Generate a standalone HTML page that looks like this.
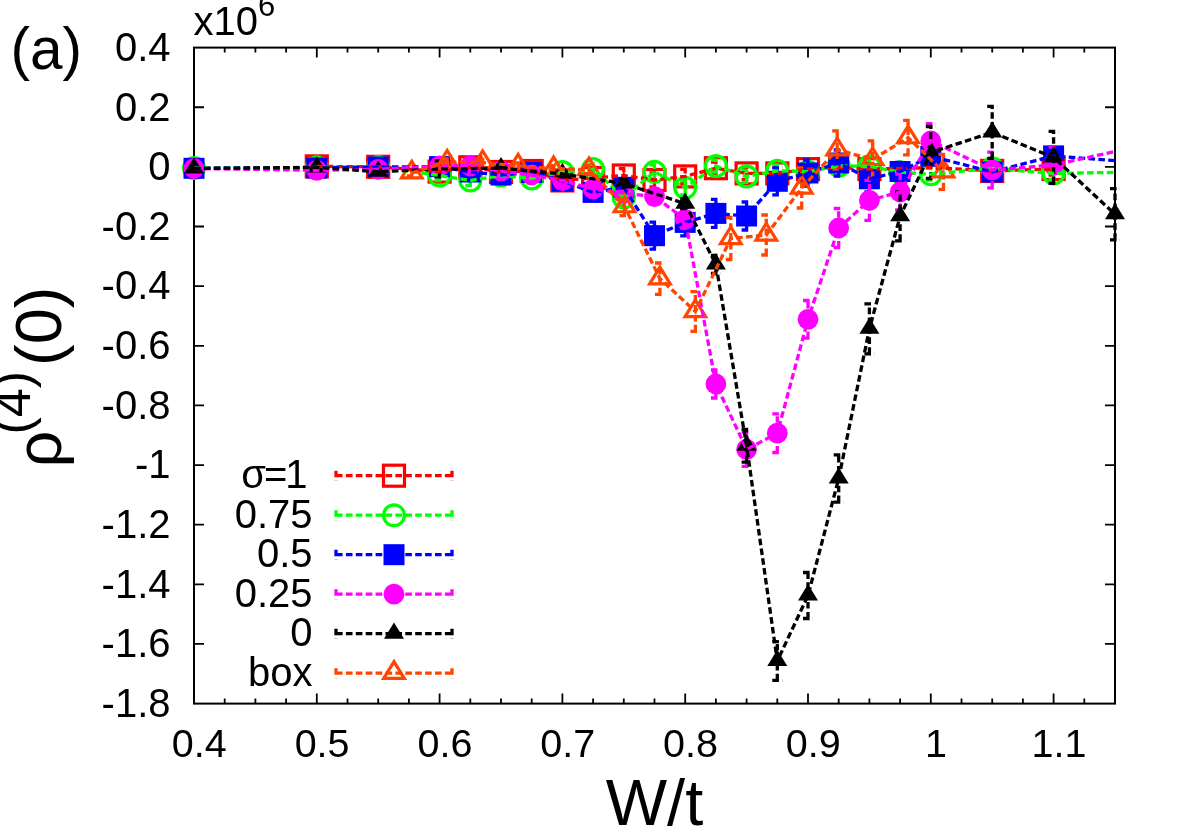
<!DOCTYPE html>
<html><head><meta charset="utf-8"><title>chart</title>
<style>
html,body{margin:0;padding:0;background:#fff;}
body{width:1186px;height:830px;overflow:hidden;font-family:"Liberation Sans",sans-serif;}
svg{display:block;will-change:transform;}
</style></head><body>
<svg width="1186" height="830" viewBox="0 0 1186 830">
<rect x="0" y="0" width="1186" height="830" fill="#fff"/>
<rect x="194" y="47.6" width="921" height="656" fill="none" stroke="#000" stroke-width="2"/>
<path d="M224.7 703.6 v-5 M224.7 47.6 v5 M255.4 703.6 v-5 M255.4 47.6 v5 M286.1 703.6 v-5 M286.1 47.6 v5 M316.8 703.6 v-10 M316.8 47.6 v10 M347.5 703.6 v-5 M347.5 47.6 v5 M378.2 703.6 v-5 M378.2 47.6 v5 M408.9 703.6 v-5 M408.9 47.6 v5 M439.6 703.6 v-10 M439.6 47.6 v10 M470.3 703.6 v-5 M470.3 47.6 v5 M501 703.6 v-5 M501 47.6 v5 M531.7 703.6 v-5 M531.7 47.6 v5 M562.4 703.6 v-10 M562.4 47.6 v10 M593.1 703.6 v-5 M593.1 47.6 v5 M623.8 703.6 v-5 M623.8 47.6 v5 M654.5 703.6 v-5 M654.5 47.6 v5 M685.2 703.6 v-10 M685.2 47.6 v10 M715.9 703.6 v-5 M715.9 47.6 v5 M746.6 703.6 v-5 M746.6 47.6 v5 M777.3 703.6 v-5 M777.3 47.6 v5 M808 703.6 v-10 M808 47.6 v10 M838.7 703.6 v-5 M838.7 47.6 v5 M869.4 703.6 v-5 M869.4 47.6 v5 M900.1 703.6 v-5 M900.1 47.6 v5 M930.8 703.6 v-10 M930.8 47.6 v10 M961.5 703.6 v-5 M961.5 47.6 v5 M992.2 703.6 v-5 M992.2 47.6 v5 M1022.9 703.6 v-5 M1022.9 47.6 v5 M1053.6 703.6 v-10 M1053.6 47.6 v10 M1084.3 703.6 v-5 M1084.3 47.6 v5 M194 107.24 h10 M1115 107.24 h-10 M194 166.87 h10 M1115 166.87 h-10 M194 226.51 h10 M1115 226.51 h-10 M194 286.15 h10 M1115 286.15 h-10 M194 345.78 h10 M1115 345.78 h-10 M194 405.42 h10 M1115 405.42 h-10 M194 465.05 h10 M1115 465.05 h-10 M194 524.69 h10 M1115 524.69 h-10 M194 584.33 h10 M1115 584.33 h-10 M194 643.96 h10 M1115 643.96 h-10" fill="none" stroke="#000" stroke-width="1.8"/>
<g font-family="Liberation Sans, sans-serif" fill="#000">
<text x="170.5" y="60.9" font-size="40" text-anchor="end">0.4</text>
<text x="170.5" y="120.54" font-size="40" text-anchor="end">0.2</text>
<text x="170.5" y="180.17" font-size="40" text-anchor="end">0</text>
<text x="170.5" y="239.81" font-size="40" text-anchor="end">-0.2</text>
<text x="170.5" y="299.45" font-size="40" text-anchor="end">-0.4</text>
<text x="170.5" y="359.08" font-size="40" text-anchor="end">-0.6</text>
<text x="170.5" y="418.72" font-size="40" text-anchor="end">-0.8</text>
<text x="170.5" y="478.35" font-size="40" text-anchor="end">-1</text>
<text x="170.5" y="537.99" font-size="40" text-anchor="end">-1.2</text>
<text x="170.5" y="597.63" font-size="40" text-anchor="end">-1.4</text>
<text x="170.5" y="657.26" font-size="40" text-anchor="end">-1.6</text>
<text x="170.5" y="716.9" font-size="40" text-anchor="end">-1.8</text>
<text x="199.3" y="757" font-size="39.5" text-anchor="middle">0.4</text>
<text x="322.1" y="757" font-size="39.5" text-anchor="middle">0.5</text>
<text x="444.9" y="757" font-size="39.5" text-anchor="middle">0.6</text>
<text x="567.7" y="757" font-size="39.5" text-anchor="middle">0.7</text>
<text x="690.5" y="757" font-size="39.5" text-anchor="middle">0.8</text>
<text x="813.3" y="757" font-size="39.5" text-anchor="middle">0.9</text>
<text x="936.1" y="757" font-size="39.5" text-anchor="middle">1</text>
<text x="1058.9" y="757" font-size="39.5" text-anchor="middle">1.1</text>
<text x="193.5" y="35.1" font-size="40">x10<tspan font-size="31" dy="-19.2">6</tspan></text>
<text x="10.5" y="68.6" font-size="58.5">(a)</text>
<text x="654.5" y="825.2" font-size="65" text-anchor="middle">W/t</text>
<text transform="translate(61 377) rotate(-90)" font-size="65" text-anchor="middle">ρ<tspan font-size="52" dy="-31.4" dx="-4">(4)</tspan><tspan dy="31.4" dx="5">(0)</tspan></text>
<text x="307.5" y="488.3" font-size="40" text-anchor="end">σ<tspan dx="-2">=</tspan><tspan dx="-2">1</tspan></text>
<text x="312.5" y="527.8" font-size="40" text-anchor="end">0.75</text>
<text x="312.5" y="567.3" font-size="40" text-anchor="end">0.5</text>
<text x="312.5" y="606.8" font-size="40" text-anchor="end">0.25</text>
<text x="312.5" y="646.3" font-size="40" text-anchor="end">0</text>
<text x="312.5" y="685.8" font-size="40" text-anchor="end">box</text>
</g>
<g stroke-linecap="butt">
<path d="M336 475.7 H452 M336 470.7 v10 M452 470.7 v10" fill="none" stroke="#ff0000" stroke-width="3.3" stroke-dasharray="6.6 3.3"/>
<rect x="383.5" y="465.2" width="21" height="21" fill="none" stroke="#ff0000" stroke-width="3.2"/>
<path d="M336 515.2 H452 M336 510.2 v10 M452 510.2 v10" fill="none" stroke="#00ff00" stroke-width="3.3" stroke-dasharray="6.6 3.3"/>
<circle cx="394" cy="515.2" r="10.4" fill="none" stroke="#00ff00" stroke-width="3.3"/>
<path d="M336 554.7 H452 M336 549.7 v10 M452 549.7 v10" fill="none" stroke="#0000ff" stroke-width="3.3" stroke-dasharray="6.6 3.3"/>
<rect x="383.5" y="544.2" width="21" height="21" fill="#0000ff"/>
<path d="M336 594.2 H452 M336 589.2 v10 M452 589.2 v10" fill="none" stroke="#ff00ff" stroke-width="3.3" stroke-dasharray="6.6 3.3"/>
<circle cx="394" cy="594.2" r="10.4" fill="#ff00ff"/>
<path d="M336 633.7 H452 M336 628.7 v10 M452 628.7 v10" fill="none" stroke="#000000" stroke-width="3.3" stroke-dasharray="6.6 3.3"/>
<path d="M394 622.5 L384 638.7 L404 638.7 Z" fill="#000000"/>
<path d="M336 673.2 H452 M336 668.2 v10 M452 668.2 v10" fill="none" stroke="#ff4500" stroke-width="3.3" stroke-dasharray="6.6 3.3"/>
<path d="M394 661.66 L383.7 678.35 L404.3 678.35 Z" fill="none" stroke="#ff4500" stroke-width="3.2" stroke-linejoin="miter"/>
<path d="M316.8 169.4 V163.4 M311.8 169.4 H321.8 M311.8 163.4 H321.8 M378.2 169.8 V163.8 M373.2 169.8 H383.2 M373.2 163.8 H383.2 M439.6 176.6 V166.6 M434.6 176.6 H444.6 M434.6 166.6 H444.6 M470.3 172.3 V162.3 M465.3 172.3 H475.3 M465.3 162.3 H475.3 M501 177 V167 M496 177 H506 M496 167 H506 M531.7 176 V166 M526.7 176 H536.7 M526.7 166 H536.7 M562.4 185.4 V175.4 M557.4 185.4 H567.4 M557.4 175.4 H567.4 M593.1 183 V173 M588.1 183 H598.1 M588.1 173 H598.1 M623.8 182.5 V168.5 M618.8 182.5 H628.8 M618.8 168.5 H628.8 M654.5 187 V173 M649.5 187 H659.5 M649.5 173 H659.5 M685.2 183.4 V169.4 M680.2 183.4 H690.2 M680.2 169.4 H690.2 M715.9 174.2 V162.2 M710.9 174.2 H720.9 M710.9 162.2 H720.9 M746.6 179.4 V167.4 M741.6 179.4 H751.6 M741.6 167.4 H751.6 M777.3 179.4 V167.4 M772.3 179.4 H782.3 M772.3 167.4 H782.3 M808 175.1 V163.1 M803 175.1 H813 M803 163.1 H813 M869.4 175.1 V163.1 M864.4 175.1 H874.4 M864.4 163.1 H874.4 M992.2 176.9 V164.9 M987.2 176.9 H997.2 M987.2 164.9 H997.2 M1053.6 175 V163 M1048.6 175 H1058.6 M1048.6 163 H1058.6" fill="none" stroke="#ff0000" stroke-width="3.3" stroke-dasharray="6.6 3.3"/>
<rect x="306.3" y="155.9" width="21" height="21" fill="none" stroke="#ff0000" stroke-width="3.2"/>
<rect x="367.7" y="156.3" width="21" height="21" fill="none" stroke="#ff0000" stroke-width="3.2"/>
<rect x="429.1" y="161.1" width="21" height="21" fill="none" stroke="#ff0000" stroke-width="3.2"/>
<rect x="459.8" y="156.8" width="21" height="21" fill="none" stroke="#ff0000" stroke-width="3.2"/>
<rect x="490.5" y="161.5" width="21" height="21" fill="none" stroke="#ff0000" stroke-width="3.2"/>
<rect x="521.2" y="160.5" width="21" height="21" fill="none" stroke="#ff0000" stroke-width="3.2"/>
<rect x="551.9" y="169.9" width="21" height="21" fill="none" stroke="#ff0000" stroke-width="3.2"/>
<rect x="582.6" y="167.5" width="21" height="21" fill="none" stroke="#ff0000" stroke-width="3.2"/>
<rect x="613.3" y="165" width="21" height="21" fill="none" stroke="#ff0000" stroke-width="3.2"/>
<rect x="644" y="169.5" width="21" height="21" fill="none" stroke="#ff0000" stroke-width="3.2"/>
<rect x="674.7" y="165.9" width="21" height="21" fill="none" stroke="#ff0000" stroke-width="3.2"/>
<rect x="705.4" y="157.7" width="21" height="21" fill="none" stroke="#ff0000" stroke-width="3.2"/>
<rect x="736.1" y="162.9" width="21" height="21" fill="none" stroke="#ff0000" stroke-width="3.2"/>
<rect x="766.8" y="162.9" width="21" height="21" fill="none" stroke="#ff0000" stroke-width="3.2"/>
<rect x="797.5" y="158.6" width="21" height="21" fill="none" stroke="#ff0000" stroke-width="3.2"/>
<rect x="858.9" y="158.6" width="21" height="21" fill="none" stroke="#ff0000" stroke-width="3.2"/>
<rect x="981.7" y="160.4" width="21" height="21" fill="none" stroke="#ff0000" stroke-width="3.2"/>
<rect x="1043.1" y="158.5" width="21" height="21" fill="none" stroke="#ff0000" stroke-width="3.2"/>
<path d="M194 171 V165 M189 171 H199 M189 165 H199 M316.8 170.4 V164.4 M311.8 170.4 H321.8 M311.8 164.4 H321.8 M378.2 170 V164 M373.2 170 H383.2 M373.2 164 H383.2 M439.6 180.5 V170.5 M434.6 180.5 H444.6 M434.6 170.5 H444.6 M470.3 185.5 V175.5 M465.3 185.5 H475.3 M465.3 175.5 H475.3 M501 180.5 V170.5 M496 180.5 H506 M496 170.5 H506 M531.7 183.4 V173.4 M526.7 183.4 H536.7 M526.7 173.4 H536.7 M562.4 177 V167 M557.4 177 H567.4 M557.4 167 H567.4 M593.1 174.1 V164.1 M588.1 174.1 H598.1 M588.1 164.1 H598.1 M623.8 204.5 V190.5 M618.8 204.5 H628.8 M618.8 190.5 H628.8 M654.5 178.8 V164.8 M649.5 178.8 H659.5 M649.5 164.8 H659.5 M685.2 194.8 V180.8 M680.2 194.8 H690.2 M680.2 180.8 H690.2 M715.9 172 V160 M710.9 172 H720.9 M710.9 160 H720.9 M746.6 182.4 V170.4 M741.6 182.4 H751.6 M741.6 170.4 H751.6 M777.3 176.8 V164.8 M772.3 176.8 H782.3 M772.3 164.8 H782.3 M808 177.7 V165.7 M803 177.7 H813 M803 165.7 H813 M838.7 171.8 V159.8 M833.7 171.8 H843.7 M833.7 159.8 H843.7 M869.4 172.3 V160.3 M864.4 172.3 H874.4 M864.4 160.3 H874.4 M900.1 178.2 V166.2 M895.1 178.2 H905.1 M895.1 166.2 H905.1 M930.8 180.2 V168.2 M925.8 180.2 H935.8 M925.8 168.2 H935.8 M992.2 174.4 V162.4 M987.2 174.4 H997.2 M987.2 162.4 H997.2 M1053.6 179.4 V167.4 M1048.6 179.4 H1058.6 M1048.6 167.4 H1058.6" fill="none" stroke="#00ff00" stroke-width="3.3" stroke-dasharray="6.6 3.3"/>
<circle cx="194" cy="168" r="10.4" fill="none" stroke="#00ff00" stroke-width="3.3"/>
<circle cx="316.8" cy="167.4" r="10.4" fill="none" stroke="#00ff00" stroke-width="3.3"/>
<circle cx="378.2" cy="167" r="10.4" fill="none" stroke="#00ff00" stroke-width="3.3"/>
<circle cx="439.6" cy="175.5" r="10.4" fill="none" stroke="#00ff00" stroke-width="3.3"/>
<circle cx="470.3" cy="180.5" r="10.4" fill="none" stroke="#00ff00" stroke-width="3.3"/>
<circle cx="501" cy="175.5" r="10.4" fill="none" stroke="#00ff00" stroke-width="3.3"/>
<circle cx="531.7" cy="178.4" r="10.4" fill="none" stroke="#00ff00" stroke-width="3.3"/>
<circle cx="562.4" cy="172" r="10.4" fill="none" stroke="#00ff00" stroke-width="3.3"/>
<circle cx="593.1" cy="169.1" r="10.4" fill="none" stroke="#00ff00" stroke-width="3.3"/>
<circle cx="623.8" cy="197.5" r="10.4" fill="none" stroke="#00ff00" stroke-width="3.3"/>
<circle cx="654.5" cy="171.8" r="10.4" fill="none" stroke="#00ff00" stroke-width="3.3"/>
<circle cx="685.2" cy="187.8" r="10.4" fill="none" stroke="#00ff00" stroke-width="3.3"/>
<circle cx="715.9" cy="166" r="10.4" fill="none" stroke="#00ff00" stroke-width="3.3"/>
<circle cx="746.6" cy="176.4" r="10.4" fill="none" stroke="#00ff00" stroke-width="3.3"/>
<circle cx="777.3" cy="170.8" r="10.4" fill="none" stroke="#00ff00" stroke-width="3.3"/>
<circle cx="808" cy="171.7" r="10.4" fill="none" stroke="#00ff00" stroke-width="3.3"/>
<circle cx="838.7" cy="165.8" r="10.4" fill="none" stroke="#00ff00" stroke-width="3.3"/>
<circle cx="869.4" cy="166.3" r="10.4" fill="none" stroke="#00ff00" stroke-width="3.3"/>
<circle cx="900.1" cy="172.2" r="10.4" fill="none" stroke="#00ff00" stroke-width="3.3"/>
<circle cx="930.8" cy="174.2" r="10.4" fill="none" stroke="#00ff00" stroke-width="3.3"/>
<circle cx="992.2" cy="168.4" r="10.4" fill="none" stroke="#00ff00" stroke-width="3.3"/>
<circle cx="1053.6" cy="173.4" r="10.4" fill="none" stroke="#00ff00" stroke-width="3.3"/>
<path d="M194 171.3 V165.3 M189 171.3 H199 M189 165.3 H199 M316.8 171 V165 M311.8 171 H321.8 M311.8 165 H321.8 M378.2 170 V164 M373.2 170 H383.2 M373.2 164 H383.2 M439.6 171.6 V161.6 M434.6 171.6 H444.6 M434.6 161.6 H444.6 M470.3 177 V167 M465.3 177 H475.3 M465.3 167 H475.3 M501 181 V169 M496 181 H506 M496 169 H506 M531.7 178.5 V166.5 M526.7 178.5 H536.7 M526.7 166.5 H536.7 M562.4 187 V175 M557.4 187 H567.4 M557.4 175 H567.4 M593.1 200.4 V184.4 M588.1 200.4 H598.1 M588.1 184.4 H598.1 M623.8 195.3 V179.3 M618.8 195.3 H628.8 M618.8 179.3 H628.8 M654.5 249.2 V222.2 M649.5 249.2 H659.5 M649.5 222.2 H659.5 M685.2 235.9 V208.9 M680.2 235.9 H690.2 M680.2 208.9 H690.2 M715.9 227.4 V199.4 M710.9 227.4 H720.9 M710.9 199.4 H720.9 M746.6 230 V202 M741.6 230 H751.6 M741.6 202 H751.6 M777.3 194.8 V167.8 M772.3 194.8 H782.3 M772.3 167.8 H782.3 M808 186 V160 M803 186 H813 M803 160 H813 M838.7 176 V150 M833.7 176 H843.7 M833.7 150 H843.7 M869.4 191.8 V165.8 M864.4 191.8 H874.4 M864.4 165.8 H874.4 M900.1 180.5 V162.5 M895.1 180.5 H905.1 M895.1 162.5 H905.1 M930.8 165.3 V147.3 M925.8 165.3 H935.8 M925.8 147.3 H935.8 M992.2 180.9 V162.9 M987.2 180.9 H997.2 M987.2 162.9 H997.2 M1053.6 164.9 V146.9 M1048.6 164.9 H1058.6 M1048.6 146.9 H1058.6" fill="none" stroke="#0000ff" stroke-width="3.3" stroke-dasharray="6.6 3.3"/>
<rect x="183.5" y="157.8" width="21" height="21" fill="#0000ff"/>
<rect x="306.3" y="157.5" width="21" height="21" fill="#0000ff"/>
<rect x="367.7" y="156.5" width="21" height="21" fill="#0000ff"/>
<rect x="429.1" y="156.1" width="21" height="21" fill="#0000ff"/>
<rect x="459.8" y="161.5" width="21" height="21" fill="#0000ff"/>
<rect x="490.5" y="164.5" width="21" height="21" fill="#0000ff"/>
<rect x="521.2" y="162" width="21" height="21" fill="#0000ff"/>
<rect x="551.9" y="170.5" width="21" height="21" fill="#0000ff"/>
<rect x="582.6" y="181.9" width="21" height="21" fill="#0000ff"/>
<rect x="613.3" y="176.8" width="21" height="21" fill="#0000ff"/>
<rect x="644" y="225.2" width="21" height="21" fill="#0000ff"/>
<rect x="674.7" y="211.9" width="21" height="21" fill="#0000ff"/>
<rect x="705.4" y="202.9" width="21" height="21" fill="#0000ff"/>
<rect x="736.1" y="205.5" width="21" height="21" fill="#0000ff"/>
<rect x="766.8" y="170.8" width="21" height="21" fill="#0000ff"/>
<rect x="797.5" y="162.5" width="21" height="21" fill="#0000ff"/>
<rect x="828.2" y="152.5" width="21" height="21" fill="#0000ff"/>
<rect x="858.9" y="168.3" width="21" height="21" fill="#0000ff"/>
<rect x="889.6" y="161" width="21" height="21" fill="#0000ff"/>
<rect x="920.3" y="145.8" width="21" height="21" fill="#0000ff"/>
<rect x="981.7" y="161.4" width="21" height="21" fill="#0000ff"/>
<rect x="1043.1" y="145.4" width="21" height="21" fill="#0000ff"/>
<path d="M194 171.5 V165.5 M189 171.5 H199 M189 165.5 H199 M316.8 173.3 V167.3 M311.8 173.3 H321.8 M311.8 167.3 H321.8 M378.2 172.3 V166.3 M373.2 172.3 H383.2 M373.2 166.3 H383.2 M439.6 170 V162 M434.6 170 H444.6 M434.6 162 H444.6 M470.3 170 V162 M465.3 170 H475.3 M465.3 162 H475.3 M501 175 V167 M496 175 H506 M496 167 H506 M531.7 179 V171 M526.7 179 H536.7 M526.7 171 H536.7 M562.4 185.6 V175.6 M557.4 185.6 H567.4 M557.4 175.6 H567.4 M593.1 194 V184 M588.1 194 H598.1 M588.1 184 H598.1 M623.8 199.2 V187.2 M618.8 199.2 H628.8 M618.8 187.2 H628.8 M654.5 203.6 V189.6 M649.5 203.6 H659.5 M649.5 189.6 H659.5 M685.2 228.4 V210.4 M680.2 228.4 H690.2 M680.2 210.4 H690.2 M715.9 398 V370 M710.9 398 H720.9 M710.9 370 H720.9 M746.6 466.4 V432.4 M741.6 466.4 H751.6 M741.6 432.4 H751.6 M777.3 452.5 V413.9 M772.3 452.5 H782.3 M772.3 413.9 H782.3 M808 338.1 V300.5 M803 338.1 H813 M803 300.5 H813 M838.7 247.5 V208.5 M833.7 247.5 H843.7 M833.7 208.5 H843.7 M869.4 220.3 V180.3 M864.4 220.3 H874.4 M864.4 180.3 H874.4 M900.1 210 V174 M895.1 210 H905.1 M895.1 174 H905.1 M930.8 158.3 V123.7 M925.8 158.3 H935.8 M925.8 123.7 H935.8 M992.2 187.8 V152.2 M987.2 187.8 H997.2 M987.2 152.2 H997.2 M1053.6 183 V147 M1048.6 183 H1058.6 M1048.6 147 H1058.6" fill="none" stroke="#ff00ff" stroke-width="3.3" stroke-dasharray="6.6 3.3"/>
<circle cx="194" cy="168.5" r="10.4" fill="#ff00ff"/>
<circle cx="316.8" cy="170.3" r="10.4" fill="#ff00ff"/>
<circle cx="378.2" cy="169.3" r="10.4" fill="#ff00ff"/>
<circle cx="439.6" cy="166" r="10.4" fill="#ff00ff"/>
<circle cx="470.3" cy="166" r="10.4" fill="#ff00ff"/>
<circle cx="501" cy="171" r="10.4" fill="#ff00ff"/>
<circle cx="531.7" cy="175" r="10.4" fill="#ff00ff"/>
<circle cx="562.4" cy="180.6" r="10.4" fill="#ff00ff"/>
<circle cx="593.1" cy="189" r="10.4" fill="#ff00ff"/>
<circle cx="623.8" cy="193.2" r="10.4" fill="#ff00ff"/>
<circle cx="654.5" cy="196.6" r="10.4" fill="#ff00ff"/>
<circle cx="685.2" cy="219.4" r="10.4" fill="#ff00ff"/>
<circle cx="715.9" cy="384" r="10.4" fill="#ff00ff"/>
<circle cx="746.6" cy="449.4" r="10.4" fill="#ff00ff"/>
<circle cx="777.3" cy="433.2" r="10.4" fill="#ff00ff"/>
<circle cx="808" cy="319.3" r="10.4" fill="#ff00ff"/>
<circle cx="838.7" cy="228" r="10.4" fill="#ff00ff"/>
<circle cx="869.4" cy="200.3" r="10.4" fill="#ff00ff"/>
<circle cx="900.1" cy="192" r="10.4" fill="#ff00ff"/>
<circle cx="930.8" cy="141" r="10.4" fill="#ff00ff"/>
<circle cx="992.2" cy="170" r="10.4" fill="#ff00ff"/>
<circle cx="1053.6" cy="165" r="10.4" fill="#ff00ff"/>
<path d="M194 170.5 V166.5 M189 170.5 H199 M189 166.5 H199 M316.8 169.4 V165.4 M311.8 169.4 H321.8 M311.8 165.4 H321.8 M378.2 173.7 V169.7 M373.2 173.7 H383.2 M373.2 169.7 H383.2 M439.6 176.9 V160.9 M434.6 176.9 H444.6 M434.6 160.9 H444.6 M501 171.2 V165.2 M496 171.2 H506 M496 165.2 H506 M562.4 177 V171 M557.4 177 H567.4 M557.4 171 H567.4 M623.8 187.5 V179.5 M618.8 187.5 H628.8 M618.8 179.5 H628.8 M685.2 208.7 V198.7 M680.2 208.7 H690.2 M680.2 198.7 H690.2 M715.9 273.5 V255.5 M710.9 273.5 H720.9 M710.9 255.5 H720.9 M746.6 462.2 V429.4 M741.6 462.2 H751.6 M741.6 429.4 H751.6 M777.3 680.3 V641.7 M772.3 680.3 H782.3 M772.3 641.7 H782.3 M808 618.5 V572.5 M803 618.5 H813 M803 572.5 H813 M838.7 502.2 V454.8 M833.7 502.2 H843.7 M833.7 454.8 H843.7 M869.4 353.8 V303.8 M864.4 353.8 H874.4 M864.4 303.8 H874.4 M900.1 240.8 V191.8 M895.1 240.8 H905.1 M895.1 191.8 H905.1 M930.8 178.5 V126.5 M925.8 178.5 H935.8 M925.8 126.5 H935.8 M992.2 158.4 V106.4 M987.2 158.4 H997.2 M987.2 106.4 H997.2 M1053.6 183.4 V131.4 M1048.6 183.4 H1058.6 M1048.6 131.4 H1058.6 M1115 239.8 V188.6 M1110 239.8 H1120 M1110 188.6 H1120" fill="none" stroke="#000000" stroke-width="3.3" stroke-dasharray="6.6 3.3"/>
<path d="M194 157.3 L184 173.5 L204 173.5 Z" fill="#000000"/>
<path d="M316.8 156.2 L306.8 172.4 L326.8 172.4 Z" fill="#000000"/>
<path d="M378.2 160.5 L368.2 176.7 L388.2 176.7 Z" fill="#000000"/>
<path d="M501 157 L491 173.2 L511 173.2 Z" fill="#000000"/>
<path d="M562.4 162.8 L552.4 179 L572.4 179 Z" fill="#000000"/>
<path d="M623.8 172.3 L613.8 188.5 L633.8 188.5 Z" fill="#000000"/>
<path d="M685.2 192.5 L675.2 208.7 L695.2 208.7 Z" fill="#000000"/>
<path d="M715.9 253.3 L705.9 269.5 L725.9 269.5 Z" fill="#000000"/>
<path d="M746.6 434.6 L736.6 450.8 L756.6 450.8 Z" fill="#000000"/>
<path d="M777.3 649.8 L767.3 666 L787.3 666 Z" fill="#000000"/>
<path d="M808 584.3 L798 600.5 L818 600.5 Z" fill="#000000"/>
<path d="M838.7 467.3 L828.7 483.5 L848.7 483.5 Z" fill="#000000"/>
<path d="M869.4 317.6 L859.4 333.8 L879.4 333.8 Z" fill="#000000"/>
<path d="M900.1 205.1 L890.1 221.3 L910.1 221.3 Z" fill="#000000"/>
<path d="M930.8 141.3 L920.8 157.5 L940.8 157.5 Z" fill="#000000"/>
<path d="M992.2 121.2 L982.2 137.4 L1002.2 137.4 Z" fill="#000000"/>
<path d="M1053.6 146.2 L1043.6 162.4 L1063.6 162.4 Z" fill="#000000"/>
<path d="M1115 203 L1105 219.2 L1125 219.2 Z" fill="#000000"/>
<path d="M411.79 175.8 V169.8 M406.79 175.8 H416.79 M406.79 169.8 H416.79 M447.24 165 V159 M442.24 165 H452.24 M442.24 159 H452.24 M482.68 165.5 V159.5 M477.68 165.5 H487.68 M477.68 159.5 H487.68 M518.13 168.9 V162.9 M513.13 168.9 H523.13 M513.13 162.9 H523.13 M553.58 171.6 V165.6 M548.58 171.6 H558.58 M548.58 165.6 H558.58 M589.03 173.6 V165.6 M584.03 173.6 H594.03 M584.03 165.6 H594.03 M624.48 215.6 V197.6 M619.48 215.6 H629.48 M619.48 197.6 H629.48 M659.93 294.4 V263 M654.93 294.4 H664.93 M654.93 263 H664.93 M695.38 331.3 V291.7 M690.38 331.3 H700.38 M690.38 291.7 H700.38 M730.83 259.5 V217.5 M725.83 259.5 H735.83 M725.83 217.5 H735.83 M766.28 255 V215 M761.28 255 H771.28 M761.28 215 H771.28 M801.73 208 V168 M796.73 208 H806.73 M796.73 168 H806.73 M837.18 168.8 V130.8 M832.18 168.8 H842.18 M832.18 130.8 H842.18 M872.63 178.2 V140.8 M867.63 178.2 H877.63 M867.63 140.8 H877.63 M908.08 154.9 V120.3 M903.08 154.9 H913.08 M903.08 120.3 H913.08 M943.53 189.3 V154.3 M938.53 189.3 H948.53 M938.53 154.3 H948.53" fill="none" stroke="#ff4500" stroke-width="3.3" stroke-dasharray="6.6 3.3"/>
<path d="M411.79 161.26 L401.49 177.95 L422.09 177.95 Z" fill="none" stroke="#ff4500" stroke-width="3.2" stroke-linejoin="miter"/>
<path d="M447.24 150.46 L436.94 167.15 L457.54 167.15 Z" fill="none" stroke="#ff4500" stroke-width="3.2" stroke-linejoin="miter"/>
<path d="M482.68 150.96 L472.38 167.65 L492.98 167.65 Z" fill="none" stroke="#ff4500" stroke-width="3.2" stroke-linejoin="miter"/>
<path d="M518.13 154.36 L507.83 171.05 L528.43 171.05 Z" fill="none" stroke="#ff4500" stroke-width="3.2" stroke-linejoin="miter"/>
<path d="M553.58 157.06 L543.28 173.75 L563.88 173.75 Z" fill="none" stroke="#ff4500" stroke-width="3.2" stroke-linejoin="miter"/>
<path d="M589.03 158.06 L578.73 174.75 L599.33 174.75 Z" fill="none" stroke="#ff4500" stroke-width="3.2" stroke-linejoin="miter"/>
<path d="M624.48 195.06 L614.18 211.75 L634.78 211.75 Z" fill="none" stroke="#ff4500" stroke-width="3.2" stroke-linejoin="miter"/>
<path d="M659.93 267.16 L649.63 283.85 L670.23 283.85 Z" fill="none" stroke="#ff4500" stroke-width="3.2" stroke-linejoin="miter"/>
<path d="M695.38 299.96 L685.08 316.65 L705.68 316.65 Z" fill="none" stroke="#ff4500" stroke-width="3.2" stroke-linejoin="miter"/>
<path d="M730.83 226.96 L720.53 243.65 L741.13 243.65 Z" fill="none" stroke="#ff4500" stroke-width="3.2" stroke-linejoin="miter"/>
<path d="M766.28 223.46 L755.98 240.15 L776.58 240.15 Z" fill="none" stroke="#ff4500" stroke-width="3.2" stroke-linejoin="miter"/>
<path d="M801.73 176.46 L791.43 193.15 L812.03 193.15 Z" fill="none" stroke="#ff4500" stroke-width="3.2" stroke-linejoin="miter"/>
<path d="M837.18 138.26 L826.88 154.95 L847.48 154.95 Z" fill="none" stroke="#ff4500" stroke-width="3.2" stroke-linejoin="miter"/>
<path d="M872.63 147.96 L862.33 164.65 L882.93 164.65 Z" fill="none" stroke="#ff4500" stroke-width="3.2" stroke-linejoin="miter"/>
<path d="M908.08 126.06 L897.78 142.75 L918.38 142.75 Z" fill="none" stroke="#ff4500" stroke-width="3.2" stroke-linejoin="miter"/>
<path d="M943.53 160.26 L933.23 176.95 L953.83 176.95 Z" fill="none" stroke="#ff4500" stroke-width="3.2" stroke-linejoin="miter"/>
<path d="M316.8 166.4 L378.2 166.8 L439.6 171.6 L470.3 167.3 L501 172 L531.7 171 L562.4 180.4 L593.1 178 L623.8 175.5 L654.5 180 L685.2 176.4 L715.9 168.2 L746.6 173.4 L777.3 173.4 L808 169.1 L838.7 167.5 L869.4 169.1 L900.1 168.5 L930.8 167.5 L992.2 170.9 L1053.6 169" fill="none" stroke="#ff0000" stroke-width="3.3" stroke-dasharray="6.6 3.3"/>
<path d="M194 168 L316.8 167.4 L378.2 167 L439.6 175.5 L470.3 180.5 L501 175.5 L531.7 178.4 L562.4 172 L593.1 169.1 L623.8 197.5 L654.5 171.8 L685.2 187.8 L715.9 166 L746.6 176.4 L777.3 170.8 L808 171.7 L838.7 165.8 L869.4 166.3 L900.1 172.2 L930.8 174.2 L992.2 168.4 L1053.6 173.4 L1115 172.4" fill="none" stroke="#00ff00" stroke-width="3.3" stroke-dasharray="6.6 3.3"/>
<path d="M194 168.3 L316.8 168 L378.2 167 L439.6 166.6 L470.3 172 L501 175 L531.7 172.5 L562.4 181 L593.1 192.4 L623.8 187.3 L654.5 235.7 L685.2 222.4 L715.9 213.4 L746.6 216 L777.3 181.3 L808 173 L838.7 163 L869.4 178.8 L900.1 171.5 L930.8 156.3 L992.2 171.9 L1053.6 155.9 L1115 160.7" fill="none" stroke="#0000ff" stroke-width="3.3" stroke-dasharray="6.6 3.3"/>
<path d="M194 168.5 L316.8 170.3 L378.2 169.3 L439.6 166 L470.3 166 L501 171 L531.7 175 L562.4 180.6 L593.1 189 L623.8 193.2 L654.5 196.6 L685.2 219.4 L715.9 384 L746.6 449.4 L777.3 433.2 L808 319.3 L838.7 228 L869.4 200.3 L900.1 192 L930.8 141 L992.2 170 L1053.6 165 L1115 151.5" fill="none" stroke="#ff00ff" stroke-width="3.3" stroke-dasharray="6.6 3.3"/>
<path d="M194 168.5 L316.8 167.4 L378.2 171.7 L439.6 168.9 L501 168.2 L562.4 174 L623.8 183.5 L685.2 203.7 L715.9 264.5 L746.6 445.8 L777.3 661 L808 595.5 L838.7 478.5 L869.4 328.8 L900.1 216.3 L930.8 152.5 L992.2 132.4 L1053.6 157.4 L1115 214.2" fill="none" stroke="#000000" stroke-width="3.3" stroke-dasharray="6.6 3.3"/>
<path d="M411.79 172.8 L447.24 162 L482.68 162.5 L518.13 165.9 L553.58 168.6 L589.03 169.6 L624.48 206.6 L659.93 278.7 L695.38 311.5 L730.83 238.5 L766.28 235 L801.73 188 L837.18 149.8 L872.63 159.5 L908.08 137.6 L943.53 171.8" fill="none" stroke="#ff4500" stroke-width="3.3" stroke-dasharray="6.6 3.3"/>
</g>
</svg>
</body></html>
